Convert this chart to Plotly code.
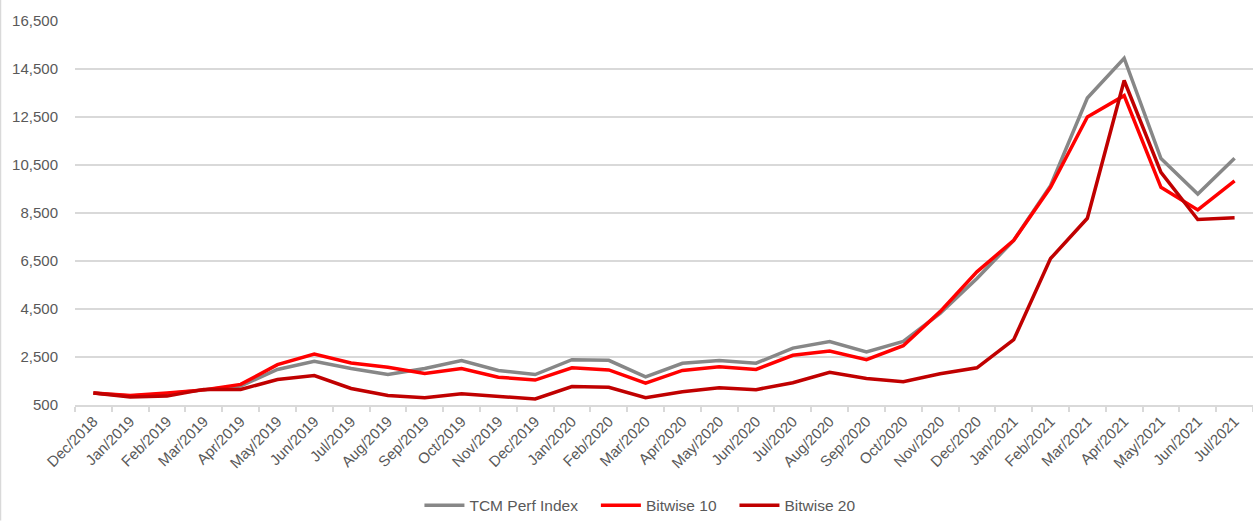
import plotly.graph_objects as go

months = ["Dec/2018", "Jan/2019", "Feb/2019", "Mar/2019", "Apr/2019", "May/2019", "Jun/2019",
          "Jul/2019", "Aug/2019", "Sep/2019", "Oct/2019", "Nov/2019", "Dec/2019", "Jan/2020",
          "Feb/2020", "Mar/2020", "Apr/2020", "May/2020", "Jun/2020", "Jul/2020", "Aug/2020",
          "Sep/2020", "Oct/2020", "Nov/2020", "Dec/2020", "Jan/2021", "Feb/2021", "Mar/2021",
          "Apr/2021", "May/2021", "Jun/2021", "Jul/2021"]

tcm_perf_index = [1000, 880, 970, 1130, 1290, 1980, 2320, 2020, 1770, 2020, 2350, 1935, 1770,
                  2390, 2360, 1670, 2240, 2350, 2240, 2870, 3140, 2710, 3150, 4320, 5770,
                  7360, 9640, 13290, 14950, 10770, 9290, 10780]
bitwise_10 = [1000, 900, 1000, 1130, 1360, 2180, 2620, 2250, 2070, 1810, 2020, 1660, 1540,
              2050, 1960, 1410, 1940, 2090, 1980, 2570, 2750, 2390, 2970, 4390, 6050,
              7360, 9570, 12500, 13390, 9570, 8630, 9840]
bitwise_20 = [1000, 830, 870, 1150, 1150, 1560, 1730, 1190, 900, 800, 970, 860, 750,
              1270, 1240, 800, 1050, 1220, 1140, 1430, 1860, 1600, 1470, 1800, 2050,
              3220, 6600, 8280, 14020, 10190, 8230, 8300]

y_ticks = [500, 2500, 4500, 6500, 8500, 10500, 12500, 14500, 16500]

text_color = "#595959"
grid_color = "#d9d9d9"
font_family = "Liberation Sans, Arial, sans-serif"

fig = go.Figure()
series = [
    ("TCM Perf Index\u00a0\u00a0\u00a0", tcm_perf_index, "#878787"),
    ("Bitwise 10\u00a0\u00a0\u00a0", bitwise_10, "#ff0000"),
    ("Bitwise 20", bitwise_20, "#c00000"),
]
for name, vals, color in series:
    fig.add_trace(go.Scatter(
        x=months, y=vals, name=name, mode="lines",
        line=dict(color=color, width=3.5),
    ))

fig.update_layout(
    width=1253, height=523,
    margin=dict(l=75, r=0, t=21, b=116),
    paper_bgcolor="white", plot_bgcolor="white",
    font=dict(family=font_family, color=text_color, size=15),
    showlegend=True,
    legend=dict(
        orientation="h", x=0.48, xanchor="center", y=-0.262, yanchor="middle",
        font=dict(size=15.5, color=text_color), itemwidth=40,
        tracegroupgap=0,
    ),
    xaxis=dict(
        type="category", categoryorder="array", categoryarray=months,
        range=[-0.5, len(months) - 0.5], automargin=False,
        tickangle=-45, tickson="boundaries", ticks="outside", ticklen=5,
        tickcolor=grid_color, tickwidth=1.5,
        showline=True, linecolor=grid_color, linewidth=1.5,
        showgrid=False, tickfont=dict(size=15, color=text_color),
    ),
    yaxis=dict(
        range=[500, 16500], tickvals=y_ticks, automargin=False,
        ticktext=[f"{v:,}" for v in y_ticks],
        showgrid=True, gridcolor=grid_color, gridwidth=1.5,
        zeroline=False, showline=False, ticks="", ticklabelstandoff=16,
        tickfont=dict(size=15, color=text_color),
    ),
    shapes=[dict(type="line", xref="paper", yref="paper",
                 x0=-74.5 / 1178, x1=-74.5 / 1178, y0=-116 / 386, y1=1 + 21 / 386,
                 line=dict(color=grid_color, width=1.5))],
)

fig.write_html("out.html")
